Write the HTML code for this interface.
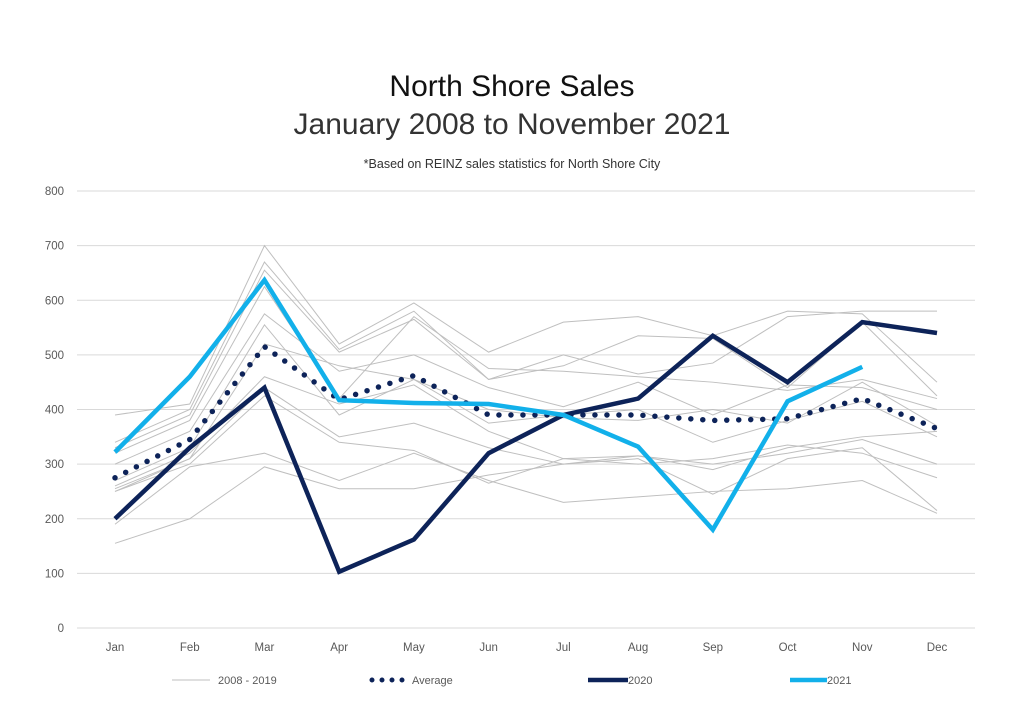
<!DOCTYPE html>
<html><head><meta charset="utf-8"><style>
body{margin:0;background:#fff;font-family:"Liberation Sans",sans-serif;}
svg text{font-family:"Liberation Sans",sans-serif;}
</style></head><body>
<svg id="c" width="1024" height="709" xmlns="http://www.w3.org/2000/svg">
<text x="512" y="96" text-anchor="middle" font-size="30" fill="#111">North Shore Sales</text>
<text x="512" y="134" text-anchor="middle" font-size="30" fill="#333" font-weight="300">January 2008 to November 2021</text>
<text x="512" y="168" text-anchor="middle" font-size="12.5" fill="#333">*Based on REINZ sales statistics for North Shore City</text>
<g id="grid"></g><g id="gray"></g><g id="main"></g><g id="legend"></g>
</svg>
<script>
const months=["Jan","Feb","Mar","Apr","May","Jun","Jul","Aug","Sep","Oct","Nov","Dec"];
const yTicks=[0,100,200,300,400,500,600,700,800];
const s2020=[200,330,440,103,162,320,390,420,535,450,560,540];
const s2021=[322,460,637,417,412,410,390,332,180,415,478];
const avg=[275,345,515,418,462,390,390,390,380,383,420,365];
const g1=[390,410,700,520,595,505,560,570,535,580,575,450];
const g2=[340,400,670,510,580,455,500,465,485,570,580,580];
const g3=[330,390,655,505,565,455,480,535,530,440,560,425];
const g4=[320,380,625,420,570,475,470,460,450,435,455,420];
const g5=[300,360,575,470,500,440,405,450,390,445,440,400];
const g6=[270,330,555,390,455,400,385,380,400,375,450,370];
const g7=[250,310,520,480,455,375,390,400,340,380,415,350];
const g8=[260,320,460,410,445,360,310,315,290,330,350,360];
const g9=[255,310,440,350,375,330,300,315,300,320,345,300];
const g10=[250,300,425,340,325,265,310,300,310,335,320,275];
const g11=[190,295,320,270,320,270,230,240,250,255,270,210];
const g12=[155,200,295,255,255,280,300,310,245,310,330,215];
const grays=[g1,g2,g3,g4,g5,g6,g7,g8,g9,g10,g11,g12];
const NS="http://www.w3.org/2000/svg";
const X=i=>115+i*(937-115)/11;
const Y=v=>628-v*(628-191)/800;
function mk(t,a,p){const e=document.createElementNS(NS,t);for(const k in a)e.setAttribute(k,a[k]);p.appendChild(e);return e;}
const grid=document.getElementById('grid');
yTicks.forEach(v=>{
 const l=mk('line',{x1:77,x2:975,y1:Y(v),y2:Y(v),stroke:'#d9d9d9','stroke-width':1},grid);
 
 
 const t=mk('text',{x:64,y:Y(v)+4,'text-anchor':'end','font-size':11.5,fill:'#595959'},grid);
 t.textContent=v;
 
 
});
months.forEach((m,i)=>{
 const t=mk('text',{x:X(i),y:651,'text-anchor':'middle','font-size':11.5,fill:'#595959'},grid);
 t.textContent=m;
 
 
});
const pts=a=>a.map((v,i)=>X(i)+','+Y(v)).join(' ');
const gg=document.getElementById('gray');
grays.forEach((a,k)=>{
 const p=mk('polyline',{points:pts(a),fill:'none',stroke:'#bfbfbf','stroke-width':1},gg);
 
 
});
const mg=document.getElementById('main');
let p=mk('polyline',{points:pts(avg),fill:'none',stroke:'#0d2359','stroke-width':5.5,'stroke-dasharray':'0 12','stroke-linecap':'round'},mg);


p=mk('polyline',{points:pts(s2020),fill:'none',stroke:'#0d2359','stroke-width':4.5,'stroke-linejoin':'miter'},mg);


p=mk('polyline',{points:pts(s2021),fill:'none',stroke:'#12b0ea','stroke-width':4.5},mg);


const lg=document.getElementById('legend');
const items=[["2008 - 2019",172,210,'#bfbfbf',1,null],["Average",372,410,'#0d2359',5,'0 10'],["2020",588,628,'#0d2359',4.5,null],["2021",790,827,'#12b0ea',4.5,null]];
items.forEach(it=>{
 const a={x1:it[1],x2:it[2],y1:680,y2:680,stroke:it[3],'stroke-width':it[4]};
 if(it[5]){a['stroke-dasharray']=it[5];a['stroke-linecap']='round';}
 const l=mk('line',a,lg);
 
 
 const t=mk('text',{x:it[2]+(it[5]?2:(it[4]>2?0:8)),y:684,'font-size':11,fill:'#595959'},lg);
 t.textContent=it[0];
 
 
});
</script>
</body></html>
